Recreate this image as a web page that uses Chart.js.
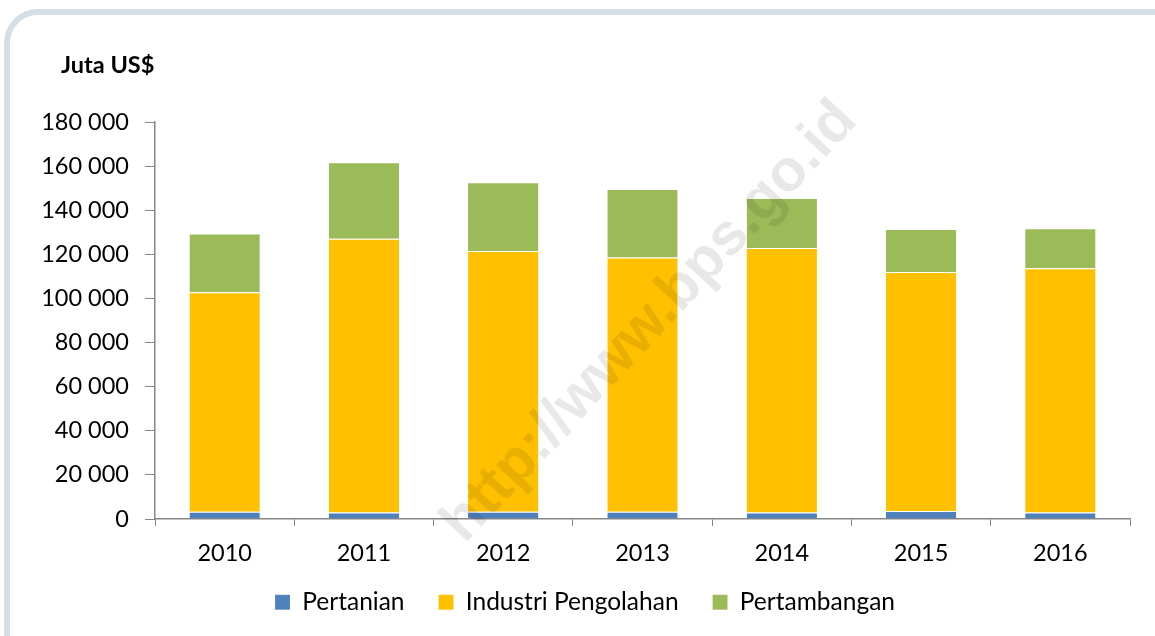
<!DOCTYPE html>
<html>
<head>
<meta charset="utf-8">
<script src="https://cdn.jsdelivr.net/npm/chart.js@4"></script>
<style>
    html, body { margin: 0; padding: 0; background: #fff; overflow: hidden; }
    #frame {
        position: absolute; left: 4px; top: 9px; width: 1200px; height: 700px;
        border: 6px solid #d3dee6; border-radius: 34px; box-sizing: border-box;
    }
    #wrap { position: absolute; left: 0; top: 0; width: 1155px; height: 636px; }
</style>
</head>
<body>
<div id="frame"></div>
<div id="wrap"><canvas id="plot_ekspor" width="1155" height="636"></canvas></div>
<script>
// nilai ekspor (juta US$)
const tahun = ['2010', '2011', '2012', '2013', '2014', '2015', '2016'];
const pertanian = [3300, 3000, 3300, 3300, 3000, 3600, 3000];
const industri = [99500, 124100, 118200, 115300, 119900, 108400, 110700];
const pertambangan = [26700, 34600, 31200, 31000, 22600, 19500, 18100];
const yTicks = [0, 20000, 40000, 60000, 80000, 100000, 120000, 140000, 160000, 180000];

const fontName = "Lato, 'Open Sans', sans-serif";

const extras = {
    id: 'extras',
    beforeInit(chart) {
        // legend lebih rapat secara vertikal
        let lg = chart.legend;
        if (lg) {
            let orig = lg.fit;
            lg.fit = function() { orig.call(this); this.height = 69; };
        }
    },
    afterLayout(chart) {
        let lg = chart.legend;
        if (lg) {
            lg.top -= 11;
            lg.bottom -= 11;
        }
    },
    afterDraw(chart) {
        let c = chart.ctx;
        c.save();
        c.fillStyle = '#000';
        c.font = "bold 23.5px " + fontName;
        c.textBaseline = 'middle';
        c.fillText('Juta US$', 61, 65);
        // watermark
        c.translate(650, 322);
        c.rotate(-47 * Math.PI / 180);
        c.font = "bold 59px Arial, 'Liberation Sans', sans-serif";
        c.fillStyle = 'rgba(0,0,0,0.09)';
        c.textAlign = 'center';
        c.textBaseline = 'middle';
        c.fillText('http://www.bps.go.id', 0, 0);
        c.restore();
    }
};

window.onload = function() {
    let ctx = document.getElementById('plot_ekspor').getContext('2d');
    let plot = new Chart(ctx, {
        type: 'bar',
        data: {
            labels: tahun,
            datasets: [{
                label: 'Pertanian',
                data: pertanian,
                backgroundColor: '#4f81bd'
            }, {
                label: 'Industri Pengolahan',
                data: industri,
                backgroundColor: '#ffc000'
            }, {
                label: 'Pertambangan',
                data: pertambangan,
                backgroundColor: '#9bbb59'
            }]
        },
        options: {
            responsive: false,
            animation: false,
            datasets: {
                bar: {
                    barPercentage: 0.505,
                    categoryPercentage: 1,
                    borderWidth: {top: 1},
                    borderColor: 'rgba(255,255,255,0.5)'
                }
            },
            layout: {
                padding: {left: 40, right: 25, top: 122, bottom: 0}
            },
            plugins: {
                tooltip: {enabled: false},
                legend: {
                    position: 'bottom',
                    labels: {
                        boxWidth: 15,
                        boxHeight: 15,
                        padding: 34,
                        color: '#000',
                        font: {family: fontName, size: 24.5}
                    }
                }
            },
            scales: {
                x: {
                    stacked: true,
                    afterFit: function(s) { s.height = 48; },
                    grid: {
                        offset: true,
                        drawOnChartArea: false,
                        color: '#868686',
                        tickLength: 7
                    },
                    border: {color: '#868686', width: 1.5},
                    ticks: {
                        color: '#000',
                        padding: 13,
                        font: {family: fontName, size: 23.5}
                    }
                },
                y: {
                    stacked: true,
                    min: 0,
                    max: 180000,
                    afterFit: function(s) { s.width = 115; },
                    afterBuildTicks: function(s) { s.ticks = yTicks.map(v => ({value: v})); },
                    grid: {
                        drawOnChartArea: false,
                        color: '#868686',
                        tickLength: 10
                    },
                    border: {color: '#868686', width: 1.5},
                    ticks: {
                        color: '#000',
                        padding: 16,
                        font: {family: fontName, size: 23.5},
                        callback: function(v) {
                            return String(v).replace(/\B(?=(\d{3})+(?!\d))/g, ' ');
                        }
                    }
                }
            }
        },
        plugins: [extras]
    });
}
</script>
</body>
</html>
